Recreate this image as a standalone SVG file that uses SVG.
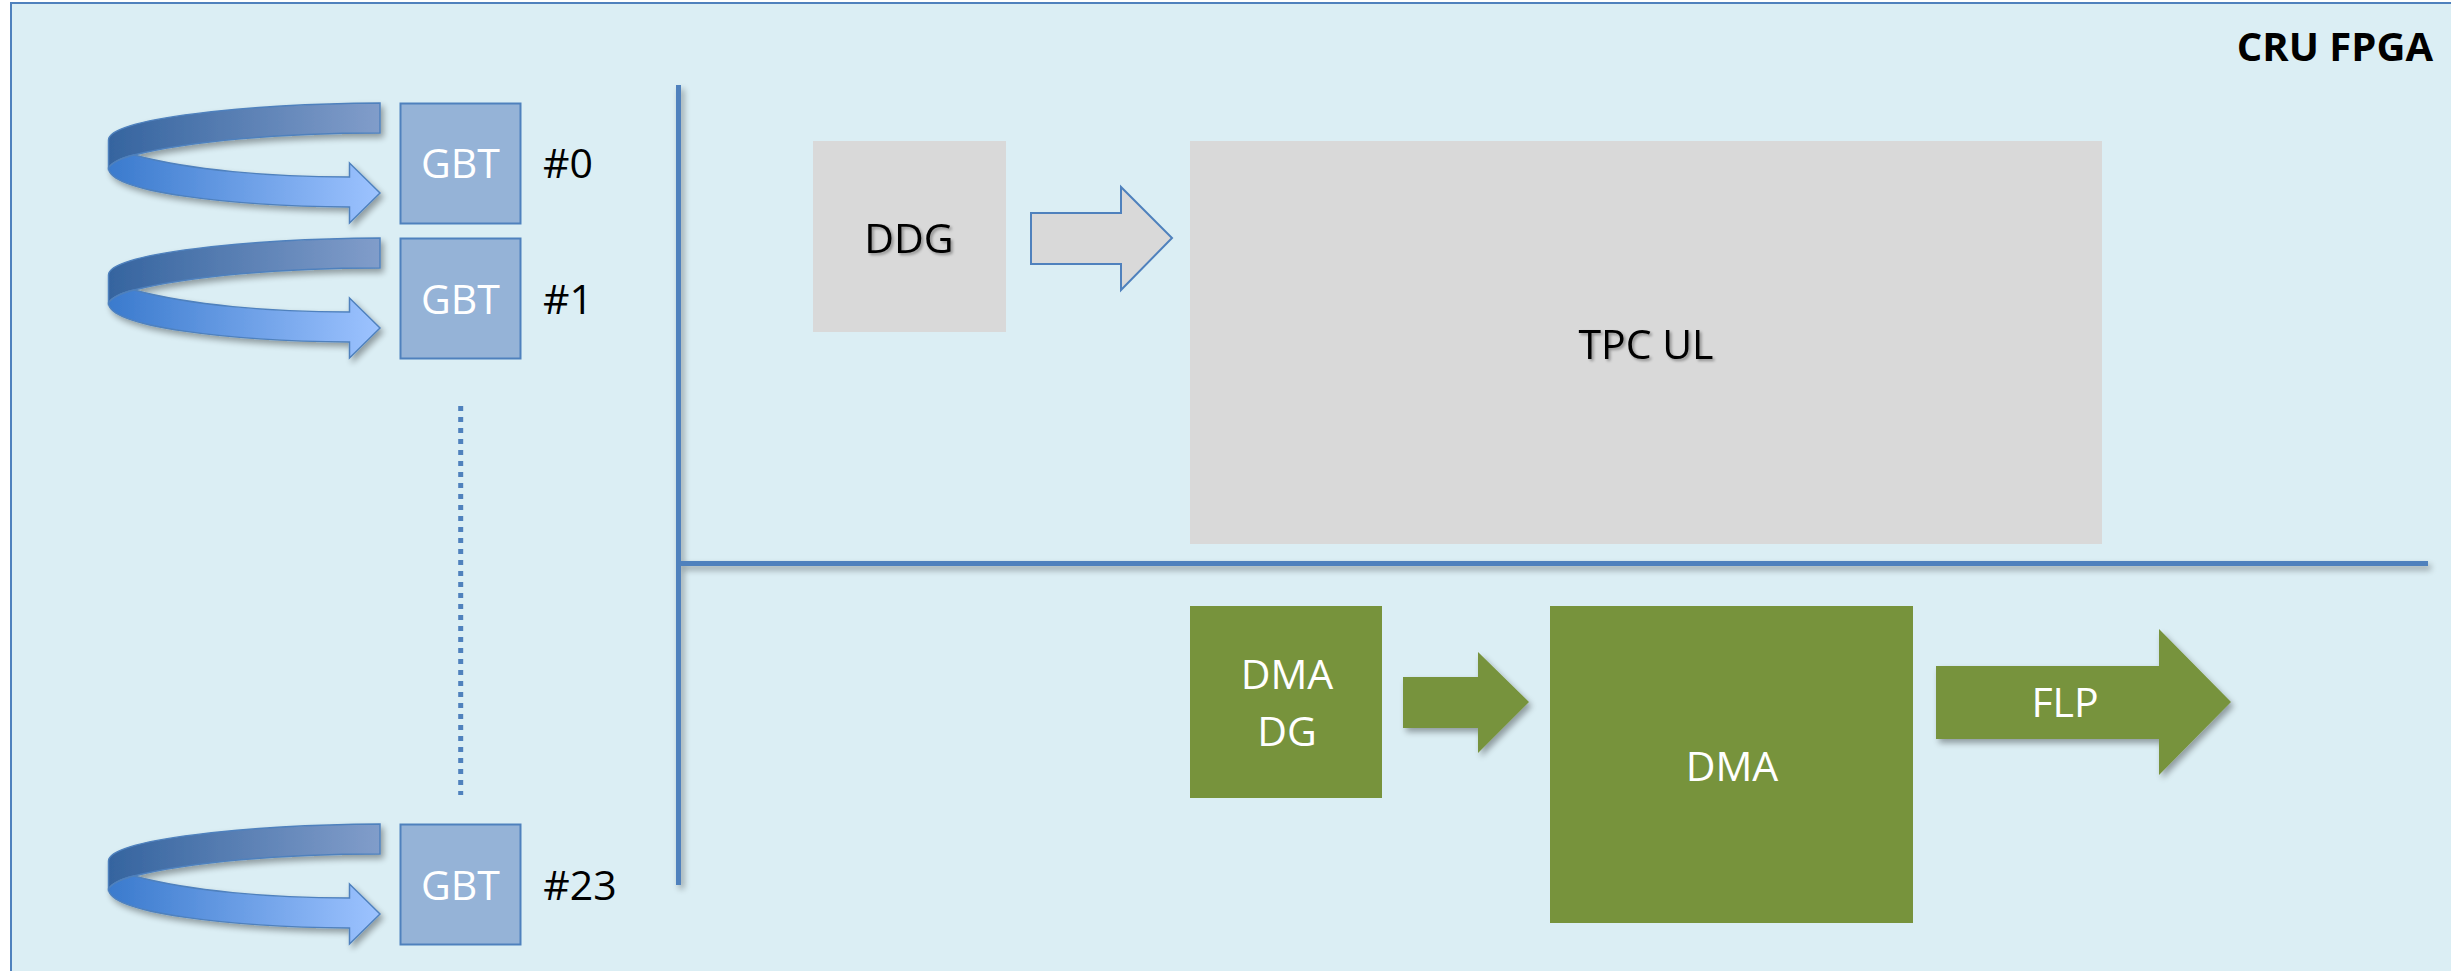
<svg xmlns="http://www.w3.org/2000/svg" width="2451" height="971" viewBox="0 0 2451 971">
<style>
.lbl{font-family:"Open Sans","Liberation Sans",sans-serif;font-size:41px;text-anchor:middle}
.w{fill:#ffffff}
.k{fill:#000000}
.gbt{fill:#95b3d7;stroke:#4f81bd;stroke-width:2}
.grey{fill:#d9d9d9}
.green{fill:#77933c}
.bus{stroke:#4f81bd;stroke-width:5;fill:none}
</style>
<defs>
<linearGradient id="gTop" x1="0" y1="0" x2="1" y2="0">
<stop offset="0" stop-color="#35649f"/>
<stop offset="1" stop-color="#819dca"/>
</linearGradient>
<linearGradient id="gBot" x1="0" y1="0" x2="1" y2="0">
<stop offset="0" stop-color="#3a7acd"/>
<stop offset="1" stop-color="#9dc3ff"/>
</linearGradient>
<filter id="sh" x="-10%" y="-10%" width="130%" height="140%">
<feGaussianBlur in="SourceAlpha" stdDeviation="3"/>
<feOffset dx="3" dy="4" result="b"/>
<feComponentTransfer><feFuncA type="linear" slope="0.35"/></feComponentTransfer>
<feMerge><feMergeNode/><feMergeNode in="SourceGraphic"/></feMerge>
</filter>
<filter id="tsh" x="-10%" y="-20%" width="130%" height="150%">
<feGaussianBlur in="SourceAlpha" stdDeviation="1.5"/>
<feOffset dx="1.5" dy="2" result="b"/>
<feComponentTransfer><feFuncA type="linear" slope="0.35"/></feComponentTransfer>
<feMerge><feMergeNode/><feMergeNode in="SourceGraphic"/></feMerge>
</filter>
<g id="loop">
<path d="M380,103 C250,104 108.5,118 108.5,140 L108.5,168 C112,162 122,158 134,155 C190,141 280,133 380,133 Z" fill="url(#gTop)" stroke="#4f81bd" stroke-width="1.5"/>
<path d="M134,155 C190,170 270,177 349.5,177 L349.5,163 L380,193 L349.5,223 L349.5,207 C230,206 108.5,192 108.5,168 C112,162 122,158 134,155 Z" fill="url(#gBot)" stroke="#4f81bd" stroke-width="1.5"/>
</g>
</defs>

<g id="frame">
<rect x="11" y="3" width="2460" height="990" fill="#dbeef4" stroke="#4f81bd" stroke-width="2"/>
<text x="2433" y="61" font-family="'Open Sans','Liberation Sans',sans-serif" font-size="40" font-weight="bold" text-anchor="end" fill="#000">CRU FPGA</text>
</g>

<g id="connectors">
<g filter="url(#sh)">
<use href="#loop"/>
<use href="#loop" transform="translate(0,135)"/>
<use href="#loop" transform="translate(0,721)"/>
</g>
<line x1="460.7" y1="406" x2="460.7" y2="795" stroke="#4f81bd" stroke-width="5" stroke-dasharray="5 6"/>
<g filter="url(#sh)">
<line class="bus" x1="678.5" y1="85" x2="678.5" y2="885"/>
<line class="bus" x1="676" y1="563.5" x2="2428" y2="563.5"/>
</g>
<path d="M1031,213 L1121,213 L1121,187 L1172,238 L1121,290 L1121,264 L1031,264 Z" fill="#d9d9d9" stroke="#4f81bd" stroke-width="2"/>
<path d="M1403,677 L1478,677 L1478,652 L1529,702 L1478,753 L1478,728 L1403,728 Z" class="green" filter="url(#sh)"/>
</g>

<g id="gbt0">
<rect class="gbt" x="400.5" y="103.5" width="120" height="120"/>
<text class="lbl w" x="460.5" y="178">GBT</text>
<text class="lbl k" x="568" y="178">#0</text>
</g>
<g id="gbt1">
<rect class="gbt" x="400.5" y="238.5" width="120" height="120"/>
<text class="lbl w" x="460.5" y="314">GBT</text>
<text class="lbl k" x="568" y="314">#1</text>
</g>
<g id="gbt23">
<rect class="gbt" x="400.5" y="824.5" width="120" height="120"/>
<text class="lbl w" x="460.5" y="900">GBT</text>
<text class="lbl k" x="580" y="900">#23</text>
</g>

<g id="ddg">
<rect class="grey" x="813" y="141" width="193" height="191"/>
<text class="lbl k" x="909" y="253" filter="url(#tsh)">DDG</text>
</g>
<g id="tpcul">
<rect class="grey" x="1190" y="141" width="912" height="403"/>
<text class="lbl k" x="1646" y="359" filter="url(#tsh)">TPC UL</text>
</g>

<g id="dmadg">
<rect class="green" x="1190" y="606" width="192" height="192"/>
<text class="lbl w" x="1287" y="689">DMA</text>
<text class="lbl w" x="1287" y="746">DG</text>
</g>
<g id="dma">
<rect class="green" x="1550" y="606" width="363" height="317"/>
<text class="lbl w" x="1732" y="781">DMA</text>
</g>
<g id="flp">
<path d="M1936,666 L2159,666 L2159,629 L2231,702 L2159,775 L2159,739 L1936,739 Z" class="green" filter="url(#sh)"/>
<text class="lbl w" x="2065" y="717">FLP</text>
</g>
</svg>
